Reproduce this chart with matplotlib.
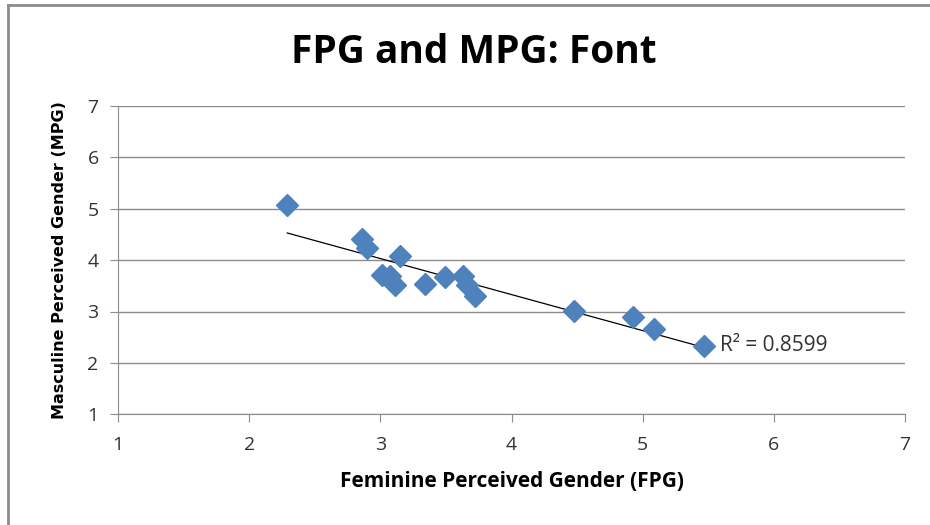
import numpy as np
import matplotlib
matplotlib.use("Agg")
import matplotlib.pyplot as plt
from matplotlib.lines import Line2D

# data
fpg = [2.29, 2.86, 2.90, 3.15, 3.01, 3.07, 3.11, 3.34, 3.49, 3.63, 3.66, 3.72, 4.48, 4.93, 5.09, 5.47]
mpg = [5.07, 4.42, 4.24, 4.08, 3.71, 3.70, 3.51, 3.53, 3.68, 3.70, 3.51, 3.30, 3.01, 2.89, 2.66, 2.33]
r2_label = "R² = 0.8599"

fig = plt.figure(figsize=(9.3, 5.25), dpi=100)
# outer chart frame (only left and top edges visible in the crop)
fig.lines.append(Line2D([0.009, 0.009], [0.0, 0.991], transform=fig.transFigure,
                        color="#8c8c8c", linewidth=2))
fig.lines.append(Line2D([0.009, 1.0], [0.991, 0.991], transform=fig.transFigure,
                        color="#8c8c8c", linewidth=2))

ax = fig.add_axes([0.127, 0.211, 0.846, 0.587])

# linear trendline
k, m = np.polyfit(fpg, mpg, 1)
xs = np.array([min(fpg), max(fpg)])
ax.plot(xs, k * xs + m, color="black", linewidth=0.9, zorder=2)

ax.plot(fpg, mpg, linestyle="none", marker="D", markersize=11.5,
        color="#4f81bd", markeredgecolor="#4f81bd", zorder=3)

ax.text(max(fpg) + 0.12, k * max(fpg) + m + 0.04, r2_label, fontsize=15,
        family="Open Sans", color="#333333", va="center")

ax.set_xlim(1, 7)
ax.set_ylim(1, 7)
ax.set_xticks(range(1, 8))
ax.set_yticks(range(1, 8))
ax.grid(axis="y", color="#8c8c8c", linewidth=1)
ax.set_axisbelow(True)
for s in ["top", "right"]:
    ax.spines[s].set_visible(False)
for s in ["left", "bottom"]:
    ax.spines[s].set_color("#8c8c8c")
ax.tick_params(axis="both", colors="#8c8c8c", length=6, labelsize=14, labelcolor="#333333")
ax.tick_params(axis="x", pad=10)
ax.tick_params(axis="y", pad=8)
for lab in ax.get_xticklabels() + ax.get_yticklabels():
    lab.set_family("Open Sans")

ax.set_xlabel("Feminine Perceived Gender (FPG)", fontsize=15, fontweight="bold",
              family="Open Sans", labelpad=12)
ax.set_ylabel("Masculine Perceived Gender (MPG)", fontsize=11.5, fontweight="bold",
              family="DejaVu Sans", labelpad=15)
fig.text(0.51, 0.9, "FPG and MPG: Font", fontsize=28, fontweight="bold",
         family="Open Sans", ha="center", va="center")

fig.savefig("out.png", dpi=100)
